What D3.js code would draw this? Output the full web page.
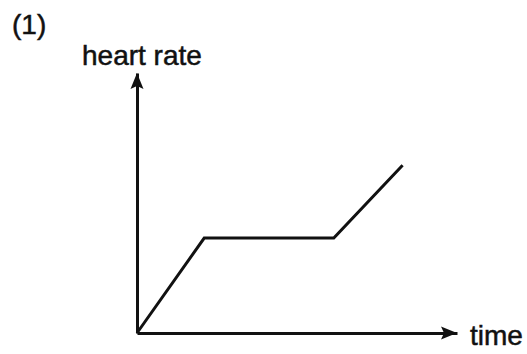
<!DOCTYPE html>
<html>
<head>
<meta charset="utf-8">
<script src="https://cdn.jsdelivr.net/npm/d3@7"></script>
<style>
html,body{margin:0;padding:0;background:#fff;}
svg{display:block;}
text{font-family:"Liberation Sans",Arial,sans-serif;fill:#111;stroke:#111;stroke-width:0.5;}
</style>
</head>
<body>
<script>
// Data (arbitrary units)
const timeValues = [0, 2.1, 6.15, 8.3];
const heartRateValues = [0, 3.65, 3.65, 6.45];
const xAxisLabel = "time";
const yAxisLabel = "heart rate";
const panelLabel = "(1)";

const W = 527, H = 354;
const svg = d3.select("body").append("svg").attr("width", W).attr("height", H);

const x = d3.scaleLinear().domain([0, 10]).range([137, 457]);
const y = d3.scaleLinear().domain([0, 10]).range([333, 73]);

// axes (domain lines only)
svg.append("g").attr("transform", `translate(0,${y(0)})`)
  .call(d3.axisBottom(x).tickValues([]).tickSizeOuter(0));
svg.append("g").attr("transform", `translate(${x(0)},0)`)
  .call(d3.axisLeft(y).tickValues([]).tickSizeOuter(0));
svg.selectAll(".domain").attr("stroke", "#111").attr("stroke-width", 3);

// arrowheads
const L = 16, Wd = 6.5, notch = 3;
const xt = x(10), yt = y(0);
svg.append("path")
  .attr("d", `M${xt},${yt} L${xt - L},${yt - Wd} L${xt - L + notch},${yt} L${xt - L},${yt + Wd} Z`)
  .attr("fill", "#111");
const xu = x(0), yu = y(10);
svg.append("path")
  .attr("d", `M${xu},${yu} L${xu - Wd},${yu + L} L${xu},${yu + L - notch} L${xu + Wd},${yu + L} Z`)
  .attr("fill", "#111");

// data line
const line = d3.line().x((d, i) => x(timeValues[i])).y(d => y(d));
svg.append("path")
  .datum(heartRateValues)
  .attr("d", line)
  .attr("fill", "none")
  .attr("stroke", "#111")
  .attr("stroke-width", 3)
  .attr("stroke-linejoin", "miter");

// texts
svg.append("text").attr("x", 12).attr("y", 34).attr("font-size", 28).text(panelLabel);
svg.append("text").attr("x", 82).attr("y", 65).attr("font-size", 28).text(yAxisLabel);
svg.append("text").attr("x", 470).attr("y", 345).attr("font-size", 28).text(xAxisLabel);
</script>
</body>
</html>
